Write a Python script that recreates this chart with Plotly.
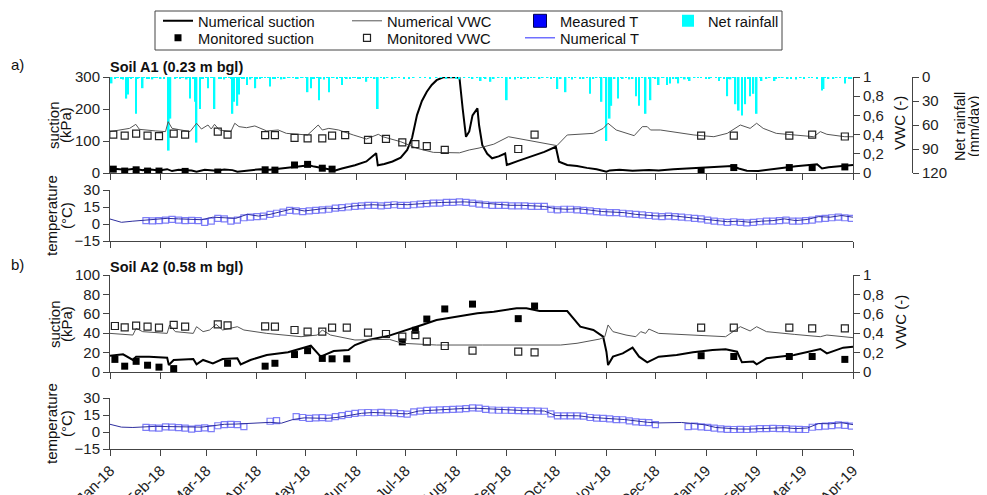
import pandas as pd
import plotly.graph_objects as go

START = pd.Timestamp("2018-01-01")
END = pd.Timestamp("2019-04-01")

# ---------------- Soil A1 (panel a) ----------------
suction_a_day = [0,5,10,15,20,25,30,35,38,42,50,53,58,65,70,75,78,85,92,98,105,112,118,122,125,130,135,138,142,150,
                 157,160,163,164,168,173,178,182,185,188,191,194,197,200,204,210,214,216,218,220,222,225,226,228,231,234,238,242,243,250,
                 258,266,273,275,280,286,292,298,304,306,312,320,330,336,345,355,365,375,381,385,390,397,405,412,420,433,436,440,448,455]
suction_a_kpa = [14,12,10,13,9,11,8,12,6,10,8,4,10,7,11,9,4,8,12,10,14,18,22,24,20,16,12,8,14,24,
                 36,50,62,24,28,36,48,72,110,181,225,254,275,290,299,300,298,200,113,130,180,202,150,87,60,46,52,61,25,38,
                 52,66,82,35,25,22,16,12,4,8,10,7,9,8,12,15,17,19,22,14,7,6,12,17,21,27,14,18,22,25]

vwc_a_day = [0,6,12,15.8,18,28,34,35.6,38,49,53,56,60,62,64,67,74,76.4,79,83.6,88.7,96,103,108,121,127.5,130,134,140,149,
             157,164.3,167,178,188,198,214,220,226,235,244,273.7,280,296,302,305,310,321,326,329,331,337,357.6,369.8,378,386,392,396,400,408,
             418,431,435,439,450,455]
vwc_a_val = [0.431,0.448,0.465,0.507,0.455,0.438,0.431,0.535,0.465,0.431,0.518,0.458,0.50,0.458,0.507,0.448,0.431,0.518,0.483,0.472,
             0.49,0.438,0.448,0.413,0.396,0.50,0.448,0.465,0.448,0.396,0.354,0.403,0.378,0.326,0.257,0.215,0.21,0.24,0.26,0.30,
             0.378,0.285,0.396,0.413,0.465,0.518,0.448,0.389,0.483,0.483,0.448,0.448,0.396,0.378,0.413,0.50,0.465,0.518,0.465,0.413,
             0.396,0.378,0.431,0.403,0.378,0.378]

mon_suction_a_day = [2,9,16,23,30,46,66,95,101,113,121,130,136,362,382,416,430,450]
mon_suction_a_kpa = [12,6,10,6,6,5,3,10,9,25,27,15,12,6,17,17,17,19]

mon_vwc_a_day = [2,9,16,23,30,39,46,66,72,95,101,113,121,130,136,144,158,169,179,187,194,205,250,260,362,382,416,430,450]
mon_vwc_a_val = [0.40,0.39,0.41,0.39,0.385,0.41,0.40,0.43,0.40,0.395,0.395,0.365,0.36,0.36,0.39,0.395,0.345,0.355,0.32,0.30,
                 0.28,0.24,0.25,0.40,0.39,0.39,0.39,0.40,0.38]

rain_day = [1,10,11,16,20,36,37,49,52,53,55,60,64,75,76,78,79,84,89,98,121,123,128,134,142,157,164,214,227,233,
            243,274,279,294,301,304,306,307,311,322,324,328,331,336,341,343,348,355,373,378,383,385,387,389,392,394,396,399,407,436,
            437,450]
rain_mm = [8,27,22,46,14,92,52,27,31,82,40,14,40,46,31,36,22,10,14,12,19,14,29,19,10,6,40,3,5,6,
           29,15,19,21,31,80,52,36,27,24,36,46,29,10,10,8,8,5,5,24,34,42,48,34,24,21,46,5,5,17,
           15,8]
rain_small_day = [3,5,8,13,18,23,26,28,31,40,44,47,57,62,67,70,73,81,86,92,95,101,105,110,115,118,125,131,137,145,
                  150,153,160,168,175,180,190,200,206,220,230,238,248,252,258,263,268,283,288,298,314,318,334,338,345,352,360,365,368,376,
                  380,402,410,415,420,425,430,440,445,453]
rain_small_mm = [2,1,3,2,1,2,3,1,2,2,1,3,2,1,2,3,1,2,3,2,1,2,3,1,2,1,2,3,1,2,
                 1,2,1,2,1,2,1,1,2,1,2,1,3,2,1,2,1,3,2,1,2,3,2,1,2,3,1,2,1,2,
                 3,2,1,2,3,2,1,2,1,2]
rain_trace_day = [4,7,12,14,17,21,24,27,29,33,41,43,45,48,51,56,59,63,68,71,74,77,80,82,87,90,93,97,100,103,
                  107,109,112,114,117,120,124,127,129,133,136,139,141,144,147,149,152,155,158,162,166,170,173,177,183,186,193,196,203,209,
                  212,217,222,225,229,235,240,245,250,254,256,260,265,270,272,276,281,285,290,292,296,300,303,309,313,316,320,326,330,333,
                  339,347,350,354,358,362,367,371,374,379,382,391,398,404,408,412,417,423,428,433,438,443,447,451,454]
rain_trace_mm = [1,2,1,1,2,1,2,1,1,2,1,2,1,1,2,2,1,1,2,1,2,1,1,2,1,2,1,1,2,1,
                 2,1,1,2,1,1,2,1,2,1,1,2,1,1,2,1,2,1,1,2,1,1,2,1,2,1,1,2,1,1,
                 2,1,2,1,1,2,1,2,1,1,2,1,1,2,1,2,1,1,2,1,2,1,1,2,1,1,2,1,2,1,
                 1,2,1,2,1,1,2,1,1,2,1,2,1,1,2,1,2,1,1,2,1,2,1,1,2]

# weekly numerical temperature from 1 Jan 2018, measured every 4 days from 23 Jan 2018
num_t_a = [4.4,1.5,2.5,3.5,4.5,5.0,4.5,4.0,3.8,6.0,5.5,5.0,8.5,7.0,8.5,11.0,13.5,11.5,12.5,14.0,
           13.5,15.5,16.5,17.0,16.5,17.5,17.0,18.0,18.5,19.0,19.5,19.5,19.0,18.0,17.0,16.5,16.5,16.0,15.5,13.5,
           13.0,13.5,12.0,11.0,10.5,10.0,8.5,7.5,7.0,7.5,6.5,5.5,4.5,3.0,2.0,2.5,1.5,2.5,3.0,4.5,
           3.0,4.0,6.5,6.0,7.5,6.0]
meas_t_a = [3.0,2.8,3.0,3.5,4.0,3.5,3.0,3.2,3.0, 1.5,2.5,5.0,4.5,2.5,3.5,5.5,6.0,6.5,
            7.0,8.5,9.5,10.5,12.0,11.5,11.0,11.5,12.0, 12.5,13.0,14.0,14.5,15.0,15.5,16.0,16.5,16.5,
            16.0,16.5,17.0,16.5,16.5,17.0,17.5,18.0,18.5, 18.5,19.0,19.0,19.5,19.0,18.5,17.5,17.0,16.5,
            16.5,16.5,16.0,16.0,16.0,15.5,15.5,15.5,13.0, 12.5,13.0,13.0,12.5,12.0,11.5,11.0,10.5,10.0,
            10.0,9.5,9.0,8.5,8.0,7.5,7.0,6.5,7.0, 6.5,6.0,5.5,5.0,4.5,3.5,2.5,2.0,1.5,
            2.0,1.5,1.0,1.5,2.0,2.5,2.5,3.0,3.5, 2.5,2.5,3.0,3.5,4.5,5.0,5.5,6.0,5.5, 5.0]

# ---------------- Soil A2 (panel b) ----------------
suction_b_day = [0,8,14,16,24,35,36,39,51,53,57,63,69,78,80,86,96,109,123,129,137,146,150,158,171,179,191,200,212,220,
                 225,235,249,255,263,280,284,288,296,300,302,304,305,308,314,320,324,329,336,347,357,369,377,384,387,394,396,402,419,435,
                 439,449,455]
suction_b_kpa = [16.8,18.2,12.4,15.8,15.8,14.8,7.2,12.4,13.4,7.9,12.4,8.9,13.4,14.1,7.9,12.4,17.5,20.3,27.1,15.8,
                 21.6,22.7,27.8,33,37.5,41.6,48.5,53.6,57,58.8,60.5,62.2,65.6,65.6,62.9,62.9,55.3,46.7,43.3,38.1,
                 36.4,20.9,7.2,15.8,19.2,25.1,15.8,10,15.8,17.5,20.3,22.7,23.4,20.9,10,10.7,7.9,14.1,17.5,23.7,
                 19.2,25.1,26.1]

vwc_b_day = [0,14,16,20,35,36.5,40,51,53,57,61,65,69,78,82,96,117,127,130,135,150,171,179,200,228,235,276,286,300,303,
             305,308,312,316,322,325,328,330,336,357,377,386,392,396,402,419,435,439,455]
vwc_b_val = [0.398,0.381,0.45,0.416,0.398,0.485,0.416,0.398,0.467,0.416,0.433,0.491,0.433,0.467,0.433,0.398,0.364,0.381,0.433,0.381,
             0.33,0.337,0.296,0.278,0.278,0.278,0.278,0.296,0.34,0.364,0.485,0.416,0.398,0.381,0.364,0.416,0.398,0.443,0.398,0.381,
             0.364,0.467,0.423,0.467,0.416,0.388,0.364,0.381,0.354]

mon_suction_b_day = [3,9,16,23,30,39,72,95,101,113,121,130,136,145,179,187,194,205,222,250,260,362,382,416,430,450]
mon_suction_b_kpa = [13,6,11,7,5,3.5,9,6,9,18,22,14,13.6,13.6,31,43,54.6,65,70,55,68,16.8,16,16,16,13]

mon_vwc_b_day = [3,9,16,23,30,39,46,66,72,95,101,113,121,130,136,145,158,169,179,187,194,205,222,250,260,362,382,416,430,450]
mon_vwc_b_val = [0.474,0.46,0.478,0.467,0.457,0.485,0.467,0.491,0.481,0.471,0.467,0.433,0.416,0.416,0.457,0.457,0.405,0.392,0.364,0.381,
                 0.313,0.268,0.22,0.21,0.203,0.457,0.457,0.457,0.45,0.45]

num_t_b = [6.8,4.3,4.0,4.5,5.0,4.8,4.6,4.7,4.3,5.5,6.8,7.0,7.6,8.0,8.5,7.8,11.0,12.5,12.3,12.0,
           13.0,15.0,16.5,17.2,17.0,16.8,16.0,18.5,19.2,19.6,20.2,20.8,21.0,20.5,19.5,19.3,19.0,18.8,18.5,14.5,
           14.5,14.3,13.0,12.0,11.6,11.0,9.5,8.6,8.0,8.4,8.4,7.5,6.4,4.0,3.2,2.6,2.6,3.2,3.6,3.8,
           3.0,3.5,7.5,7.2,8.2,6.5]
meas_t_b = [4.0,3.6,3.5,4.6,4.3,3.8,3.5,2.6,3.2, 3.6,3.0,5.5,6.5,6.8,6.5,4.8,None,None,
            None,9.5,10.0,None,None,13.5,12.8,12.0,12.5, 12.6,12.2,13.5,14.5,15.5,16.5,17.0,17.2,17.0,
            17.3,17.0,16.8,16.3,15.8,17.8,18.5,19.0,19.3, 19.5,19.8,20.0,20.2,20.6,21.2,21.0,20.0,19.4,
            19.2,19.2,19.0,18.8,18.7,18.6,18.4,18.3,16.0, 14.3,14.2,14.2,14.3,14.0,12.8,12.2,12.0,11.5,
            11.0,10.8,9.8,9.0,8.5,8.2,6.5,None,None, None,None,4.8,5.2,4.5,4.0,3.5,2.8,2.4,
            2.2,2.4,2.2,2.5,2.9,3.0,3.2,3.0,3.0, 2.6,2.4,2.2,4.2,4.8,5.2,5.6,6.2,5.8, 5.2]

month_ticks = pd.date_range(START, END, freq="MS")
vwc_ticks = [0, 0.2, 0.4, 0.6, 0.8, 1]
vwc_ticktext = ["0", "0,2", "0,4", "0,6", "0,8", "1"]


def dates(days):
    return [START + pd.Timedelta(days=float(v)) for v in days]


weekly_a = pd.date_range(START, periods=len(num_t_a), freq="7D")
weekly_b = pd.date_range(START, periods=len(num_t_b), freq="7D")
meas_dates_a = pd.date_range(START + pd.Timedelta(days=22), periods=len(meas_t_a), freq="4D")
meas_dates_b = pd.date_range(START + pd.Timedelta(days=22), periods=len(meas_t_b), freq="4D")

FONT = "Liberation Sans, Arial, sans-serif"
OFF = 8  # page body margin: screen px = figure px + 8
W, H = 987 - OFF, 495 - OFF
ML, MR = 75, 64
PW = W - ML - MR


def px(xs):
    return (xs - OFF - ML) / PW


def py(ys):
    return 1 - (ys - OFF) / H


BLACK = "#000000"
GRAY = "#555555"
T_LINE = "#2e2e9e"
T_MARK = "rgba(95,95,245,0.8)"
CYAN = "#00ffff"

fig = go.Figure()

# ---- panel a traces ----
fig.add_trace(go.Bar(x=dates(rain_day + rain_small_day + rain_trace_day),
                     y=rain_mm + rain_small_mm + rain_trace_mm, name="Net rainfall",
                     marker=dict(color=CYAN, line=dict(width=0)), width=86400000 * 1.0,
                     xaxis="x", yaxis="y2", legend="legend4"))
fig.add_trace(go.Scatter(x=dates(suction_a_day), y=suction_a_kpa, mode="lines", name="Numerical suction",
                         line=dict(color=BLACK, width=2), xaxis="x", yaxis="y", legend="legend"))
fig.add_trace(go.Scatter(x=dates(mon_suction_a_day), y=mon_suction_a_kpa, mode="markers", name="Monitored suction",
                         marker=dict(symbol="square", size=7, color=BLACK), xaxis="x", yaxis="y", legend="legend5"))
fig.add_trace(go.Scatter(x=dates(vwc_a_day), y=vwc_a_val, mode="lines", name="Numerical VWC",
                         line=dict(color=GRAY, width=1), xaxis="x", yaxis="y3", legend="legend2"))
fig.add_trace(go.Scatter(x=dates(mon_vwc_a_day), y=mon_vwc_a_val, mode="markers", name="Monitored VWC",
                         marker=dict(symbol="square-open", size=7, color="#222222", line=dict(width=1.2)),
                         xaxis="x", yaxis="y3", legend="legend6"))
fig.add_trace(go.Scatter(x=meas_dates_a, y=meas_t_a, mode="markers", showlegend=False,
                         marker=dict(symbol="square-open", size=6, color=T_MARK, line=dict(width=1.2)),
                         xaxis="x2", yaxis="y4"))
fig.add_trace(go.Scatter(x=weekly_a, y=num_t_a, mode="lines", showlegend=False,
                         line=dict(color=T_LINE, width=1), xaxis="x2", yaxis="y4"))

# legend-only entries styled as in the reference key
fig.add_trace(go.Scatter(x=[None], y=[None], mode="markers", name="Measured T",
                         marker=dict(symbol="square", size=13, color="#0000ff", line=dict(color="#000050", width=1)),
                         xaxis="x2", yaxis="y4", legend="legend3"))
fig.add_trace(go.Scatter(x=[None], y=[None], mode="lines", name="Numerical T",
                         line=dict(color="#7070ff", width=1.5), xaxis="x2", yaxis="y4", legend="legend7"))

# ---- panel b traces ----
fig.add_trace(go.Scatter(x=dates(suction_b_day), y=suction_b_kpa, mode="lines", showlegend=False,
                         line=dict(color=BLACK, width=2), xaxis="x3", yaxis="y5"))
fig.add_trace(go.Scatter(x=dates(mon_suction_b_day), y=mon_suction_b_kpa, mode="markers", showlegend=False,
                         marker=dict(symbol="square", size=7, color=BLACK), xaxis="x3", yaxis="y5"))
fig.add_trace(go.Scatter(x=dates(vwc_b_day), y=vwc_b_val, mode="lines", showlegend=False,
                         line=dict(color=GRAY, width=1), xaxis="x3", yaxis="y6"))
fig.add_trace(go.Scatter(x=dates(mon_vwc_b_day), y=mon_vwc_b_val, mode="markers", showlegend=False,
                         marker=dict(symbol="square-open", size=7, color="#222222", line=dict(width=1.2)),
                         xaxis="x3", yaxis="y6"))
fig.add_trace(go.Scatter(x=meas_dates_b, y=meas_t_b, mode="markers", showlegend=False,
                         marker=dict(symbol="square-open", size=6, color=T_MARK, line=dict(width=1.2)),
                         xaxis="x4", yaxis="y7"))
fig.add_trace(go.Scatter(x=weekly_b, y=num_t_b, mode="lines", showlegend=False,
                         line=dict(color=T_LINE, width=1), xaxis="x4", yaxis="y7"))

AX = dict(showline=True, linecolor="#444444", linewidth=1, ticks="outside", ticklen=6, tickcolor="#444444",
          showgrid=False, zeroline=False, tickfont=dict(size=15, color="#222222", family=FONT))
xdom = [px(110), px(853)]
xr = [START, END]


def xaxis(anchor, labels):
    d = dict(AX, domain=xdom, range=xr, anchor=anchor, type="date", tickvals=month_ticks,
             showticklabels=labels)
    if labels:
        d.update(ticktext=[t.strftime("%b-%y") for t in month_ticks], tickangle=-45)
    return d


# one legend per key entry, placed where the reference key puts it
LEG_FONT = dict(size=14.7, family=FONT, color="#111111")


def leg(text_x, row_y):
    top = row_y - OFF - 16.25
    return dict(orientation="h", x=(text_x - 40 - OFF - ML) / PW, y=1 - top / H, xanchor="left", yanchor="top",
                bgcolor="rgba(0,0,0,0)", borderwidth=0, font=LEG_FONT)


R1, R2 = 21, 38
fig.update_layout(
    width=W, height=H,
    margin=dict(l=ML, r=MR, t=0, b=0, autoexpand=False),
    paper_bgcolor="white", plot_bgcolor="rgba(0,0,0,0)",
    font=dict(family=FONT, size=15, color="#111111"),
    barmode="overlay",
    xaxis=xaxis("y", False),
    xaxis2=xaxis("y4", False),
    xaxis3=xaxis("y5", False),
    xaxis4=xaxis("y7", True),
    yaxis=dict(AX, domain=[py(173), py(77)], range=[0, 300], tickvals=[0, 100, 200, 300], anchor="x"),
    yaxis2=dict(AX, overlaying="y", side="right", anchor="free", position=px(912), range=[120, 0],
                tickvals=[0, 30, 60, 90, 120]),
    yaxis3=dict(AX, overlaying="y", side="right", anchor="x", range=[0, 1], tickvals=vwc_ticks,
                ticktext=vwc_ticktext),
    yaxis4=dict(AX, domain=[py(241), py(190)], range=[-15, 30], tickvals=[-15, 0, 15, 30], anchor="x2"),
    yaxis5=dict(AX, domain=[py(372), py(275)], range=[0, 100], tickvals=[0, 20, 40, 60, 80, 100], anchor="x3"),
    yaxis6=dict(AX, overlaying="y5", side="right", anchor="x3", range=[0, 1], tickvals=vwc_ticks,
                ticktext=vwc_ticktext),
    yaxis7=dict(AX, domain=[py(449), py(398)], range=[-15, 30], tickvals=[-15, 0, 15, 30], anchor="x4"),
    showlegend=True,
    legend=leg(198, R1), legend2=leg(387, R1), legend3=leg(560, R1), legend4=leg(708, R1),
    legend5=leg(198, R2), legend6=leg(387, R2), legend7=leg(560, R2),
    shapes=[dict(type="rect", xref="paper", yref="paper", x0=px(155), x1=px(782), y0=py(50), y1=py(11),
                 line=dict(color="#444444", width=1), fillcolor="white", layer="below")],
)

ann = []


def rot(text, x, y, size=15):
    ann.append(dict(text=text, x=px(x), y=py(y), xref="paper", yref="paper", showarrow=False,
                    textangle=-90, xanchor="center", yanchor="middle", font=dict(size=size, family=FONT, color="#111111")))


rot("suction", 54, 125)
rot("(kPa)", 66, 125)
rot("temperature", 51, 216)
rot("(°C)", 66, 216)
rot("suction", 54, 324)
rot("(kPa)", 66, 324)
rot("temperature", 51, 424)
rot("(°C)", 66, 424)
rot("VWC (-)", 899, 123)
rot("Net rainfall", 960, 127, 14.5)
rot("(mm/day)", 974, 127, 14.5)
rot("VWC (-)", 900, 322)

for txt, x, y in [("a)", 17, 64), ("b)", 17, 264)]:
    ann.append(dict(text=txt, x=px(x), y=py(y), xref="paper", yref="paper", showarrow=False,
                    xanchor="center", yanchor="middle", font=dict(size=15, family=FONT, color="#111111")))
for txt, y in [("<b>Soil A1 (0.23 m bgl)</b>", 67), ("<b>Soil A2 (0.58 m bgl)</b>", 267)]:
    ann.append(dict(text=txt, x=px(108), y=py(y), xref="paper", yref="paper", showarrow=False,
                    xanchor="left", yanchor="middle", font=dict(size=14.5, family=FONT, color="#111111")))
fig.update_layout(annotations=ann)

fig.write_html("out.html")
